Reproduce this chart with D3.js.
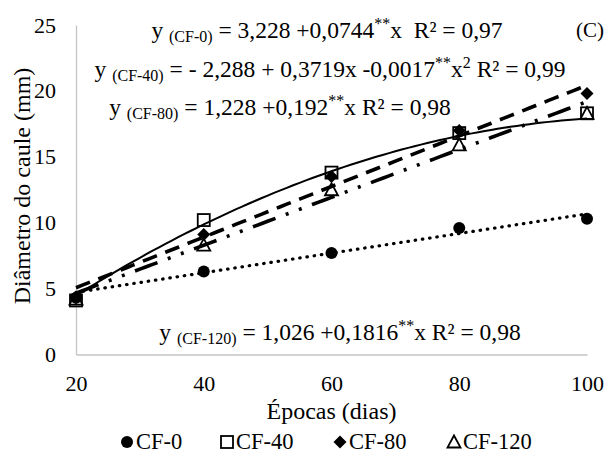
<!DOCTYPE html>
<html>
<head>
<meta charset="utf-8">
<script src="https://cdn.jsdelivr.net/npm/d3@7"></script>
</head>
<body style="margin:0;background:#fff">
<svg id="chart"></svg>
<script>
const W = 614, H = 454;
const FONT = '"Liberation Serif"';

// data
const epocas = [20, 40, 60, 80, 100];
const seriesNames = ["CF-0", "CF-40", "CF-80", "CF-120"];
const cf0 = [4.3, 6.3, 7.7, 9.6, 10.3];
const cf40 = [4.1, 10.2, 13.8, 16.8, 18.3];
const cf80 = [4.3, 9.1, 13.5, 17.0, 19.8];
const cf120 = [4.2, 8.3, 12.5, 15.9, 18.3];
const yTicks = [0, 5, 10, 15, 20, 25];
const xTicks = [20, 40, 60, 80, 100];
// trendline coefficients as printed on the chart (a + b x + c x²)
const trendCoefs = [
  [3.228, 0.0744, 0],
  [-2.288, 0.3719, -0.0017],
  [1.228, 0.192, 0],
  [1.026, 0.1816, 0]
];

const seriesValues = [cf0, cf40, cf80, cf120];

const svg = d3.select("#chart").attr("width", W).attr("height", H)
  .style("display", "block");

const x = d3.scaleLinear().domain([20, 100]).range([76, 587]);
const y = d3.scaleLinear().domain([0, 25]).range([354.5, 25]);

// axes
const yAxis = svg.append("g")
  .attr("transform", `translate(${x(20)},0)`)
  .call(d3.axisLeft(y).tickValues(yTicks).tickSize(0).tickPadding(20));
const xAxis = svg.append("g")
  .attr("transform", `translate(0,${y(0)})`)
  .call(d3.axisBottom(x).tickValues(xTicks).tickSize(0).tickPadding(21));
[yAxis, xAxis].forEach(g => {
  g.attr("font-family", null).attr("font-size", null);
  g.select(".domain").attr("stroke", "#c4c4c4").attr("stroke-width", 1.3);
  g.selectAll("text").style("font-family", FONT).style("font-size", "22px").attr("fill", "#000");
});

// trendlines
const lineStyles = [
  { dash: "0.5,6.8", width: 3.2, cap: "round" },
  { dash: null, width: 2, cap: "butt" },
  { dash: "15,9", width: 3.6, cap: "butt" },
  { dash: "24,11,3,11,3,11", width: 3.6, cap: "butt" }
];
const xs = d3.range(20, 100.5, 1);
trendCoefs.forEach((c, i) => {
  const pts = xs.map(v => [v, c[0] + c[1] * v + c[2] * v * v]);
  svg.append("path")
    .datum(pts)
    .attr("fill", "none")
    .attr("stroke", "#000")
    .attr("stroke-width", lineStyles[i].width)
    .attr("stroke-linecap", lineStyles[i].cap)
    .attr("stroke-dasharray", lineStyles[i].dash)
    .attr("d", d3.line().x(d => x(d[0])).y(d => y(d[1])));
});

// markers
function drawMarker(g, i, cx, cy) {
  if (i === 0) {
    g.append("circle").attr("cx", cx).attr("cy", cy).attr("r", 6).attr("fill", "#000");
  } else if (i === 1) {
    g.append("rect").attr("x", cx - 6).attr("y", cy - 6).attr("width", 12).attr("height", 12)
      .attr("fill", "none").attr("stroke", "#000").attr("stroke-width", 1.8);
  } else if (i === 2) {
    g.append("path").attr("transform", `translate(${cx},${cy})`)
      .attr("d", "M0,-6.5L6.5,0L0,6.5L-6.5,0Z").attr("fill", "#000");
  } else {
    g.append("path").attr("transform", `translate(${cx},${cy})`)
      .attr("d", "M0,-6.5L6.5,5.5L-6.5,5.5Z")
      .attr("fill", "none").attr("stroke", "#000").attr("stroke-width", 1.8);
  }
}
seriesValues.forEach((vals, i) => {
  const g = svg.append("g");
  vals.forEach((v, j) => drawMarker(g, i, x(epocas[j]), y(v)));
});

function addText(px, py, size, anchor) {
  return svg.append("text").attr("x", px).attr("y", py)
    .attr("text-anchor", anchor || "start")
    .style("font-family", FONT).style("font-size", size + "px").attr("fill", "#000");
}

// equations
function equation(cx, by, parts) {
  const t = addText(cx, by, 23.5, "middle");
  parts.forEach(p => {
    const s = t.append("tspan").text(p[0]);
    if (p[1] === "sub") s.style("font-size", "16px").attr("dy", 4);
    if (p[1] === "back") s.attr("dy", -4);
    if (p[1] === "sup") s.style("font-size", "16px").attr("dy", -9);
    if (p[1] === "down") s.attr("dy", 9);
  });
}
equation(327, 38, [["y "], ["(CF-0)", "sub"], [" = 3,228 +0,0744", "back"], ["**", "sup"], ["x\u00A0 R² = 0,97", "down"]]);
equation(330, 77, [["y "], ["(CF-40)", "sub"], [" = - 2,288 + 0,3719x -0,0017", "back"], ["**", "sup"], ["x", "down"], ["2", "sup"], [" R² = 0,99", "down"]]);
equation(280, 115, [["y "], ["(CF-80)", "sub"], [" = 1,228 +0,192", "back"], ["**", "sup"], ["x R² = 0,98", "down"]]);
equation(340, 340, [["y "], ["(CF-120)", "sub"], [" = 1,026 +0,1816", "back"], ["**", "sup"], ["x R² = 0,98", "down"]]);

addText(590, 37, 21, "middle").text("(C)");

// axis titles
addText(0, 0, 24, "middle")
  .attr("transform", `translate(30,186) rotate(-90)`)
  .text("Diâmetro do caule (mm)");
addText((x(20) + x(100)) / 2, 419, 24, "middle").text("Épocas (dias)");

// legend
const legendX = [127, 227, 340, 454];
seriesNames.forEach((name, i) => {
  const g = svg.append("g");
  drawMarker(g, i, legendX[i], 442);
  addText(legendX[i] + 9, 449, 22.5).text(name);
});
</script>
</body>
</html>
